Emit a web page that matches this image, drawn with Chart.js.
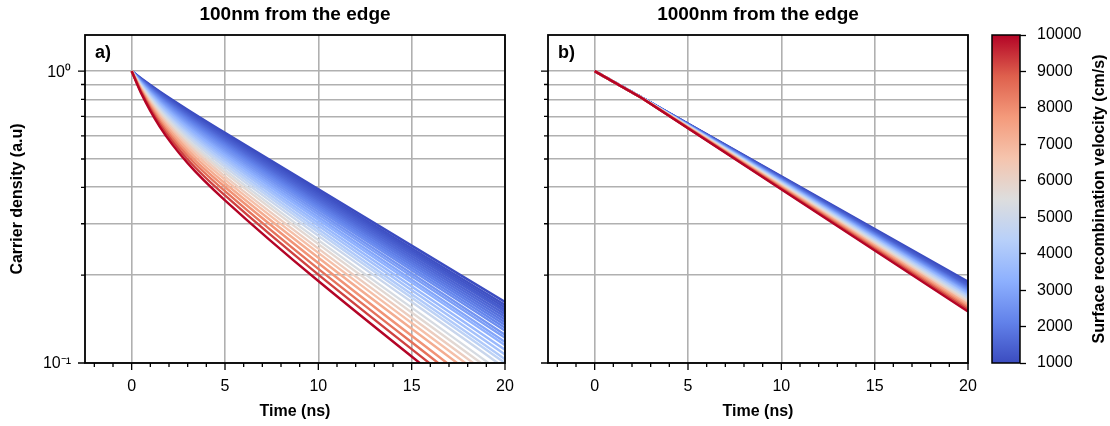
<!DOCTYPE html>
<html>
<head>
<meta charset="utf-8">
<script src="https://cdn.jsdelivr.net/npm/chart.js@4.4.1/dist/chart.umd.min.js"></script>
<style>
  body { margin: 0; background: #fff; }
  #wrap { position: relative; width: 1110px; height: 426px; }
  canvas { position: absolute; top: 0; }
</style>
</head>
<body>
<div id="wrap">
  <canvas id="panelA" width="520" height="426" style="left:0"></canvas>
  <canvas id="panelB" width="460" height="426" style="left:520px"></canvas>
  <canvas id="colorBar" width="130" height="426" style="left:980px"></canvas>
</div>
<script>
// Surface recombination velocities (cm/s), one curve each
const srvValues = [1000, 1083, 1172, 1269, 1374, 1487, 1610, 1743, 1887, 2043,
                   2212, 2395, 2593, 2807, 3039, 3290, 3562, 3857, 4175, 4520,
                   4894, 5298, 5736, 6210, 6723, 7279, 7880, 8532, 9237, 10000];

// a) 100nm from the edge - density read at these times (ns)
const timesA = [0, 0.5, 1.5, 3, 5, 20];
const initialDensity = 1; // every curve is normalised at t = 0
const densityA_t0_5 = [0.945, 0.943, 0.941, 0.939, 0.937, 0.935, 0.933, 0.931, 0.928, 0.926,
                       0.924, 0.921, 0.918, 0.916, 0.913, 0.910, 0.906, 0.903, 0.899, 0.895,
                       0.891, 0.887, 0.882, 0.877, 0.872, 0.867, 0.861, 0.855, 0.849, 0.842];
const densityA_t1_5 = [0.852, 0.847, 0.842, 0.838, 0.834, 0.830, 0.825, 0.821, 0.816, 0.811,
                       0.806, 0.801, 0.795, 0.789, 0.783, 0.777, 0.770, 0.763, 0.755, 0.748,
                       0.739, 0.731, 0.722, 0.712, 0.702, 0.692, 0.681, 0.670, 0.658, 0.646];
const densityA_t3 = [0.738, 0.731, 0.725, 0.719, 0.714, 0.708, 0.703, 0.697, 0.691, 0.685,
                     0.678, 0.671, 0.664, 0.657, 0.649, 0.641, 0.632, 0.624, 0.614, 0.605,
                     0.595, 0.584, 0.574, 0.562, 0.550, 0.538, 0.525, 0.512, 0.498, 0.484];
const densityA_t5 = [0.615, 0.608, 0.602, 0.596, 0.590, 0.584, 0.578, 0.572, 0.566, 0.560,
                     0.553, 0.546, 0.539, 0.531, 0.523, 0.515, 0.506, 0.498, 0.488, 0.479,
                     0.469, 0.458, 0.448, 0.436, 0.425, 0.413, 0.401, 0.388, 0.375, 0.361];
const densityA_t20 = [0.162, 0.158, 0.155, 0.152, 0.150, 0.147, 0.144, 0.141, 0.138, 0.135,
                      0.132, 0.129, 0.125, 0.122, 0.118, 0.115, 0.111, 0.107, 0.103, 0.100,
                      0.096, 0.091, 0.087, 0.083, 0.079, 0.075, 0.070, 0.066, 0.062, 0.058];

// b) 1000nm from the edge
const timesB = [0, 2.5, 20];
const densityB_t2_5 = [0.813, 0.813, 0.813, 0.813, 0.813, 0.813, 0.813, 0.813, 0.813, 0.813,
                       0.812, 0.812, 0.812, 0.812, 0.812, 0.812, 0.812, 0.812, 0.812, 0.812,
                       0.812, 0.812, 0.812, 0.812, 0.811, 0.811, 0.811, 0.811, 0.811, 0.811];
const densityB_t20 = [0.190, 0.188, 0.187, 0.186, 0.185, 0.183, 0.182, 0.181, 0.180, 0.179,
                      0.178, 0.177, 0.176, 0.175, 0.174, 0.173, 0.171, 0.170, 0.169, 0.167,
                      0.166, 0.164, 0.163, 0.161, 0.159, 0.158, 0.156, 0.154, 0.152, 0.150];

// axis ticks
const xTicks = [-2, -1, 0, 1, 2, 3, 4, 5, 6, 7, 8, 9, 10, 11, 12, 13, 14, 15, 16, 17, 18, 19, 20];
const yTicks = [0.1, 0.2, 0.3, 0.4, 0.5, 0.6, 0.7, 0.8, 0.9, 1];
const cbTicks = [1000, 2000, 3000, 4000, 5000, 6000, 7000, 8000, 9000, 10000];

// coolwarm colour map
const coolwarmStops = [
    [0.000, 59, 76, 192], [0.125, 98, 130, 234], [0.250, 141, 176, 254],
    [0.375, 184, 208, 249], [0.500, 221, 221, 221], [0.625, 245, 196, 173],
    [0.750, 244, 154, 123], [0.875, 222, 96, 77], [1.000, 180, 4, 38]
];

function coolwarm(f) {
    f = Math.min(1, Math.max(0, f));
    for (let i = 1; i < coolwarmStops.length; i++) {
        const [p1, ...c1] = coolwarmStops[i];
        if (f <= p1) {
            const [p0, ...c0] = coolwarmStops[i - 1];
            const k = (f - p0) / (p1 - p0);
            const c = c0.map((v, j) => Math.round(v + k * (c1[j] - v)));
            return `rgb(${c.join(',')})`;
        }
    }
}

const srvMin = cbTicks[0], srvMax = cbTicks[cbTicks.length - 1];
function srvColor(s) {
    return coolwarm((s - srvMin) / (srvMax - srvMin));
}

const fontFamily = "'Liberation Sans', Arial, sans-serif";
Chart.defaults.font.family = fontFamily;
Chart.defaults.color = '#000';

// spines, tick marks, panel title and tag
const frame = {
    id: 'frame',
    afterDraw(chart, args, opts) {
        const { ctx, chartArea: a, scales: { x, y } } = chart;
        ctx.save();
        ctx.strokeStyle = '#000';
        ctx.lineWidth = 1.3;
        ctx.beginPath();
        xTicks.forEach(v => {
            const px = x.getPixelForValue(v);
            const len = v % 5 === 0 ? 7 : 4;
            ctx.moveTo(px, a.bottom);
            ctx.lineTo(px, a.bottom + len);
        });
        yTicks.forEach(v => {
            const py = y.getPixelForValue(v);
            const len = (v === 1 || v === 0.1) ? 7 : 4;
            ctx.moveTo(a.left - len, py);
            ctx.lineTo(a.left, py);
        });
        ctx.stroke();
        ctx.lineWidth = 1.8;
        ctx.strokeRect(a.left, a.top, a.right - a.left, a.bottom - a.top);

        ctx.fillStyle = '#000';
        ctx.textBaseline = 'middle';
        ctx.font = `bold 18px ${fontFamily}`;
        ctx.fillText(opts.tag, a.left + 10, a.top + 18);

        ctx.textAlign = 'center';
        ctx.font = `bold 19px ${fontFamily}`;
        ctx.fillText(opts.title, (a.left + a.right) / 2, 15);
        ctx.restore();
    }
};

function buildDatasets(times, columns, smooth) {
    const sets = [];
    // highest velocity first so it is drawn on top
    for (let i = srvValues.length - 1; i >= 0; i--) {
        sets.push({
            data: times.map((t, k) => ({ x: t, y: k === 0 ? initialDensity : columns[k - 1][i] })),
            borderColor: srvColor(srvValues[i]),
            borderWidth: 2.4,
            pointRadius: 0,
            fill: false,
            cubicInterpolationMode: smooth ? 'monotone' : 'default',
            tension: 0
        });
    }
    return sets;
}

function makePanel(id, title, tag, showYLabels, yWidth, padRight, datasets) {
    return new Chart(document.getElementById(id), {
        type: 'line',
        data: { datasets: datasets },
        options: {
            responsive: false,
            animation: false,
            events: [],
            layout: { padding: { top: 35, right: padRight } },
            plugins: {
                legend: { display: false },
                tooltip: { enabled: false },
                frame: { tag: tag, title: title }
            },
            scales: {
                x: {
                    type: 'linear',
                    min: -2.5,
                    max: 20,
                    afterBuildTicks: s => { s.ticks = xTicks.map(v => ({ value: v })); },
                    afterFit: s => { s.height = 63; },
                    border: { display: false },
                    grid: {
                        color: c => (c.tick && c.tick.value % 5 === 0) ? '#b0b0b0' : 'rgba(0,0,0,0)',
                        lineWidth: 1.6,
                        drawTicks: true,
                        tickLength: 14,
                        tickColor: 'rgba(0,0,0,0)'
                    },
                    ticks: {
                        autoSkip: false,
                        maxRotation: 0,
                        padding: 0,
                        font: { size: 16 },
                        callback: v => v % 5 === 0 ? String(v) : ''
                    },
                    title: {
                        display: true,
                        text: 'Time (ns)',
                        font: { size: 16, weight: 'bold' },
                        padding: { top: 0, bottom: 5 }
                    }
                },
                y: {
                    type: 'logarithmic',
                    min: 0.1,
                    max: 1.33,
                    afterBuildTicks: s => { s.ticks = yTicks.map(v => ({ value: v })); },
                    afterFit: s => { s.width = yWidth; },
                    border: { display: false },
                    grid: {
                        color: '#b0b0b0',
                        lineWidth: 1.6,
                        drawTicks: true,
                        tickLength: 7,
                        tickColor: 'rgba(0,0,0,0)'
                    },
                    ticks: {
                        padding: 7,
                        labelOffset: 1,
                        font: { size: 16 },
                        callback: v => {
                            if (!showYLabels) return '';
                            if (v === 1) return '10⁰';
                            if (v === 0.1) return '10⁻¹';
                            return '';
                        }
                    },
                    title: {
                        display: showYLabels,
                        text: 'Carrier density (a.u)',
                        font: { size: 16, weight: 'bold' },
                        padding: { top: 8, bottom: 0 }
                    }
                }
            }
        },
        plugins: [frame]
    });
}

makePanel('panelA', '100nm from the edge', 'a)', true, 85, 15,
    buildDatasets(timesA, [densityA_t0_5, densityA_t1_5, densityA_t3, densityA_t5, densityA_t20], true));
makePanel('panelB', '1000nm from the edge', 'b)', false, 28, 12,
    buildDatasets(timesB, [densityB_t2_5, densityB_t20], false));

// colour bar
function barGradient(context) {
    const { chart } = context;
    const a = chart.chartArea;
    if (!a) return 'rgba(0,0,0,0)';
    const g = chart.ctx.createLinearGradient(0, a.bottom, 0, a.top);
    coolwarmStops.forEach(s => g.addColorStop(s[0], `rgb(${s[1]},${s[2]},${s[3]})`));
    return g;
}

const cbarFrame = {
    id: 'cbarFrame',
    afterDraw(chart) {
        const { ctx, chartArea: a } = chart;
        ctx.save();
        ctx.strokeStyle = '#000';
        ctx.lineWidth = 1.5;
        ctx.strokeRect(a.left, a.top, a.right - a.left, a.bottom - a.top);
        ctx.translate(120, (a.top + a.bottom) / 2);
        ctx.rotate(-Math.PI / 2);
        ctx.fillStyle = '#000';
        ctx.font = `bold 16px ${fontFamily}`;
        ctx.textAlign = 'center';
        ctx.textBaseline = 'middle';
        ctx.fillText('Surface recombination velocity (cm/s)', 0, 0);
        ctx.restore();
    }
};

new Chart(document.getElementById('colorBar'), {
    type: 'bar',
    data: {
        labels: [''],
        datasets: [{
            data: [[srvMin, srvMax]],
            backgroundColor: barGradient,
            borderWidth: 0,
            barPercentage: 1,
            categoryPercentage: 1
        }]
    },
    options: {
        responsive: false,
        animation: false,
        events: [],
        layout: { padding: { left: 12, top: 35, bottom: 63 } },
        plugins: { legend: { display: false }, tooltip: { enabled: false } },
        scales: {
            x: { display: false },
            y: {
                position: 'right',
                min: srvMin,
                max: srvMax,
                afterBuildTicks: s => { s.ticks = cbTicks.map(v => ({ value: v })); },
                afterFit: s => { s.width = 90; },
                border: { display: false },
                grid: { drawOnChartArea: false, drawTicks: true, tickLength: 6, tickColor: '#000', tickWidth: 1.3 },
                ticks: { padding: 11, font: { size: 16 }, callback: v => String(v) }
            }
        }
    },
    plugins: [cbarFrame]
});
</script>
</body>
</html>
